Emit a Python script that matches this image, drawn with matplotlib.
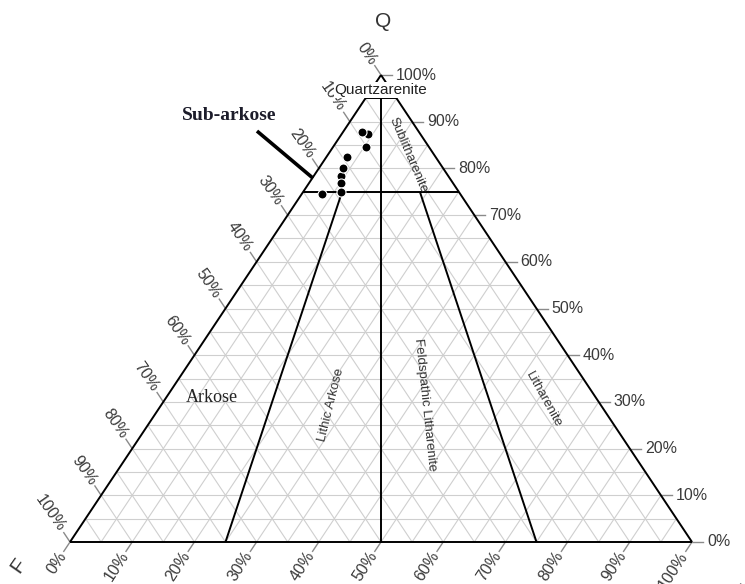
import numpy as np
import matplotlib.pyplot as plt

# QFL sample compositions (fractions)
q_vals = [0.879, 0.874, 0.845, 0.824, 0.800, 0.784, 0.768, 0.749, 0.745]
f_vals = [0.091, 0.084, 0.102, 0.143, 0.161, 0.172, 0.181, 0.190, 0.223]
l_vals = [0.030, 0.042, 0.053, 0.033, 0.039, 0.044, 0.051, 0.061, 0.032]

tick_pct = [0, 10, 20, 30, 40, 50, 60, 70, 80, 90, 100]


def tern(q, f, l):
    # ternary -> cartesian, F at bottom-left, L at bottom-right, Q at top
    s = q + f + l
    q, l = np.asarray(q) / s, np.asarray(l) / s
    return l + q / 2.0, q


def seg(ax, a, b, **kw):
    xa, ya = tern(*a)
    xb, yb = tern(*b)
    ax.plot([xa, xb], [ya, yb], **kw)


plt.rcParams['font.family'] = ['Liberation Sans', 'DejaVu Sans']
fig = plt.figure(figsize=(7.45, 5.84), dpi=100)
ax = fig.add_axes([0, 0, 1, 1])
ax.set_xlim(-70 / 622, 675 / 622)
ax.set_ylim(-42 / 467, 542 / 467)
ax.axis('off')

grid = dict(color='#cfcfcf', lw=0.8, zorder=1)
blk = dict(color='black', lw=1.4, zorder=3, solid_capstyle='butt')

# light 5% grid
for k in range(1, 20):
    v = k / 20.0
    seg(ax, (v, 1 - v, 0), (v, 0, 1 - v), **grid)
    seg(ax, (1 - v, 0, v), (0, 1 - v, v), **grid)
    seg(ax, (1 - v, v, 0), (0, v, 1 - v), **grid)

# outer triangle
seg(ax, (0, 1, 0), (0, 0, 1), **blk)
seg(ax, (0, 1, 0), (1, 0, 0), **blk)
seg(ax, (0, 0, 1), (1, 0, 0), **blk)

# Folk-style field boundaries
seg(ax, (0.95, 0.05, 0), (0.95, 0, 0.05), **blk)
seg(ax, (0.75, 0.25, 0), (0.75, 0, 0.25), **blk)
seg(ax, (0.95, 0.025, 0.025), (0, 0.5, 0.5), **blk)
seg(ax, (0.75, 0.1875, 0.0625), (0, 0.75, 0.25), **blk)
seg(ax, (0.75, 0.0625, 0.1875), (0, 0.25, 0.75), **blk)

tick_kw = dict(color='#8a8a8a', lw=1.0, zorder=2)
lab_kw = dict(fontsize=11.5, color='#3a3a3a', textcoords='offset pixels',
              zorder=4)

for p in tick_pct:
    v = p / 100.0
    # left axis (F)
    x, y = tern(1 - v, v, 0)
    ax.plot([x, x - 0.5 * 0.02], [y, y + 0.02], **tick_kw)
    ax.annotate('%d%%' % p, (x, y), xytext=(-7.7, 11.7), ha='right',
                va='center', rotation=-55, rotation_mode='anchor', **lab_kw)
    # bottom axis (L)
    x, y = tern(0, 1 - v, v)
    ax.plot([x, x - 0.5 * 0.02], [y, y - 0.02], **tick_kw)
    ax.annotate('%d%%' % p, (x, y), xytext=(-7.2, -10.8), ha='right',
                va='center', rotation=57, rotation_mode='anchor', **lab_kw)
    # right axis (Q)
    x, y = tern(v, 0, 1 - v)
    ax.plot([x, x + 0.018], [y, y], **tick_kw)
    ax.annotate('%d%%' % p, (x, y), xytext=(15, 0), ha='left',
                va='center', **lab_kw)

# samples, partly hidden ones first
order = [1, 5, 0, 2, 3, 4, 6, 7, 8]
px, py = tern(np.array(q_vals), np.array(f_vals), np.array(l_vals))
ax.plot(px[order], py[order], 'o', ms=6.5, mfc='black', mec='white',
        mew=0.8, ls='none', zorder=6)

# field names
ax.text(0.5, 0.968, 'Quartzarenite', ha='center', va='center', fontsize=11,
        color='#222222', zorder=7,
        bbox=dict(fc='white', ec='none', pad=0.5))
ax.text(0.5434, 0.8287, 'Sublitharenite', ha='center', va='center',
        rotation=-67, fontsize=9.5, color='#333333', zorder=7)
ax.text(0.4196, 0.2934, 'Lithic Arkose', ha='center', va='center',
        rotation=76, fontsize=9.5, color='#333333', zorder=7)
ax.text(0.5707, 0.2934, 'Feldspathic Litharenite', ha='center', va='center',
        rotation=-84, fontsize=9.5, color='#333333', zorder=7)
ax.text(0.7605, 0.3041, 'Litharenite', ha='center', va='center',
        rotation=-61, fontsize=9.5, color='#333333', zorder=7)
ax.text(0.2275, 0.3084, 'Arkose', ha='center', va='center', fontsize=13,
        family='Liberation Serif', color='#222222', zorder=7)
ax.text(0.2564, 0.9143, 'Sub-arkose', ha='center', va='center', fontsize=14,
        family='Liberation Serif', weight='bold', color='#1c1c2a', zorder=7)
ax.plot([0.3006, 0.3907], [0.880, 0.779], color='black', lw=2.6, zorder=7,
        solid_capstyle='butt')

# corner letters
ax.text(0.5032, 1.1156, 'Q', ha='center', va='center', fontsize=15,
        color='#333333')
ax.text(-0.0836, -0.0514, 'F', ha='center', va='center', fontsize=15,
        rotation=55, color='#333333')
ax.text(1.090, -0.092, 'L', ha='center', va='center', fontsize=15,
        rotation=55, color='#333333')

fig.savefig('out.png', dpi=100, facecolor='white')
